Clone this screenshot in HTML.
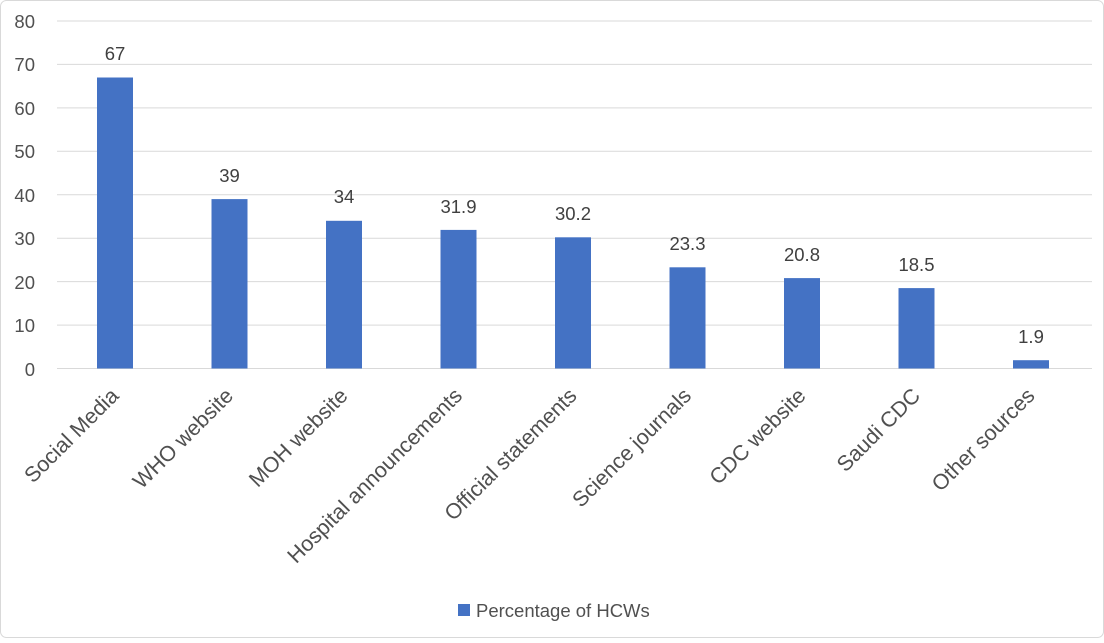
<!DOCTYPE html>
<html><head><meta charset="utf-8"><style>body{margin:0;background:#fff}</style></head><body>
<svg width="1104" height="638" xmlns="http://www.w3.org/2000/svg" font-family="Liberation Sans, sans-serif" fill="#505050">
<rect x="0.5" y="0.5" width="1103" height="637" rx="6" fill="#fff" stroke="#d9d9d9"/>
<g stroke="#d9d9d9" stroke-width="1">
<line x1="57" x2="1092" y1="21" y2="21"/><line x1="57" x2="1092" y1="64.4" y2="64.4"/>
<line x1="57" x2="1092" y1="107.9" y2="107.9"/><line x1="57" x2="1092" y1="151.3" y2="151.3"/>
<line x1="57" x2="1092" y1="194.8" y2="194.8"/><line x1="57" x2="1092" y1="238.2" y2="238.2"/>
<line x1="57" x2="1092" y1="281.6" y2="281.6"/><line x1="57" x2="1092" y1="325.1" y2="325.1"/>
<line x1="57" x2="1092" y1="368.5" y2="368.5"/>
</g>
<g font-size="18.5" text-anchor="end">
<text x="35" y="28">80</text><text x="35" y="71">70</text><text x="35" y="115">60</text><text x="35" y="158">50</text><text x="35" y="202">40</text><text x="35" y="245">30</text><text x="35" y="289">20</text><text x="35" y="332">10</text><text x="35" y="376">0</text>
</g>
<g fill="#4472c4">
<rect x="97" y="77.5" width="36" height="291"/>
<rect x="211.5" y="199.1" width="36" height="169.4"/>
<rect x="326" y="220.8" width="36" height="147.7"/>
<rect x="440.5" y="229.9" width="36" height="138.6"/>
<rect x="555" y="237.3" width="36" height="131.2"/>
<rect x="669.5" y="267.3" width="36" height="101.2"/>
<rect x="784" y="278.1" width="36" height="90.4"/>
<rect x="898.5" y="288.1" width="36" height="80.4"/>
<rect x="1013" y="360.2" width="36" height="8.3"/>
</g>
<g font-size="18.5" text-anchor="middle" fill="#404040">
<text x="115" y="60">67</text><text x="229.5" y="182">39</text><text x="344" y="203">34</text><text x="458.5" y="213">31.9</text><text x="573" y="220">30.2</text><text x="687.5" y="250">23.3</text><text x="802" y="261">20.8</text><text x="916.5" y="271">18.5</text><text x="1031" y="343">1.9</text>
</g>
<g font-size="21.5" text-anchor="end">
<text transform="translate(120,397) rotate(-45)">Social Media</text>
<text transform="translate(234.5,397) rotate(-45)">WHO website</text>
<text transform="translate(349,397) rotate(-45)">MOH website</text>
<text transform="translate(463.5,397) rotate(-45)">Hospital announcements</text>
<text transform="translate(578,397) rotate(-45)">Official statements</text>
<text transform="translate(692.5,397) rotate(-45)">Science journals</text>
<text transform="translate(807,397) rotate(-45)">CDC website</text>
<text transform="translate(921.5,397) rotate(-45)">Saudi CDC</text>
<text transform="translate(1036,397) rotate(-45)">Other sources</text>
</g>
<rect x="458" y="604" width="12" height="12" fill="#4472c4"/>
<text x="476" y="617" font-size="18.5">Percentage of HCWs</text>
</svg>
</body></html>
